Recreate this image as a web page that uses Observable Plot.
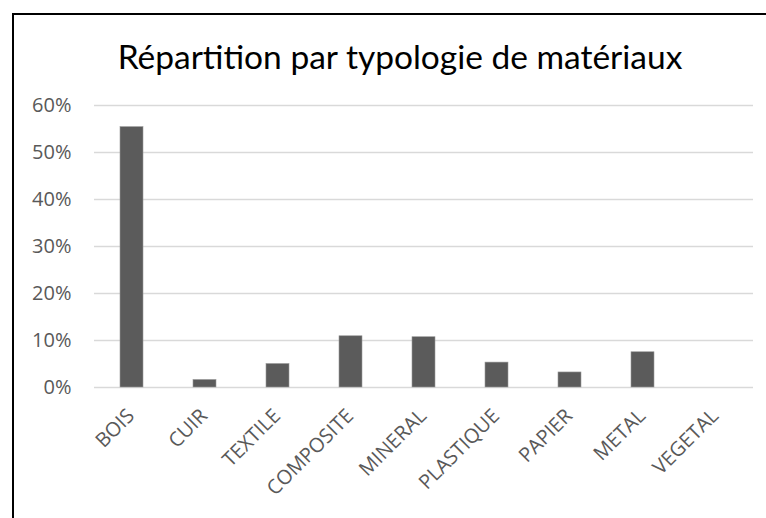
<!DOCTYPE html>
<html>
<head>
<meta charset="utf-8">
<script src="https://cdn.jsdelivr.net/npm/d3@7"></script>
<script src="https://cdn.jsdelivr.net/npm/@observablehq/plot@0.6"></script>
<style>
  html, body { margin: 0; padding: 0; background: #fff; width: 766px; height: 518px; overflow: hidden; }
  #frame { position: absolute; left: 12px; top: 13px; width: 800px; height: 600px; border: 2px solid #000; box-sizing: border-box; }
  #title { position: absolute; left: 0; width: 800px; top: 40px; text-align: center; font-family: Lato, "Noto Sans", sans-serif; font-size: 33.5px; color: #000; line-height: 1; white-space: nowrap; }
  #chart { position: absolute; left: 0; top: 0; }
  #chart svg text { font-family: "Open Sans", sans-serif; }
</style>
</head>
<body>
<div id="frame"></div>
<div id="chart"></div>
<div id="title">Répartition par typologie de matériaux</div>
<script>
const categories = ["BOIS", "CUIR", "TEXTILE", "COMPOSITE", "MINERAL", "PLASTIQUE", "PAPIER", "METAL", "VEGETAL"];
const values = [0.554, 0.016, 0.050, 0.109, 0.107, 0.053, 0.032, 0.075, 0.0];
const yTicks = [0, 0.1, 0.2, 0.3, 0.4, 0.5, 0.6];

const data = categories.map((c, i) => ({category: c, value: values[i]}));

const chart = Plot.plot({
  width: 766,
  height: 518,
  marginLeft: 94,
  marginRight: 13,
  marginTop: 105,
  marginBottom: 131,
  style: {fontFamily: "'Open Sans', sans-serif", fontSize: "20px", background: "transparent"},
  x: {domain: categories, paddingInner: 0.69, paddingOuter: 0.345, label: null},
  y: {domain: [0, 0.6], label: null},
  marks: [
    Plot.gridY(yTicks, {stroke: "#d9d9d9", strokeOpacity: 1, strokeWidth: 1.5}),
    Plot.barY(data, {x: "category", y: "value", fill: "#5b5b5b", stroke: "#9a9a9a", strokeWidth: 0.6}),
    Plot.axisY(yTicks, {tickSize: 0, tickPadding: 23, tickFormat: d3.format(".0%"), fontSize: 20, fill: "#595959", label: null}),
    Plot.axisX({tickSize: 0, tickPadding: 21, tickRotate: -45, dx: -1, dy: 4, fontSize: 20, fill: "#595959", label: null})
  ]
});
document.getElementById("chart").appendChild(chart);
</script>
</body>
</html>
